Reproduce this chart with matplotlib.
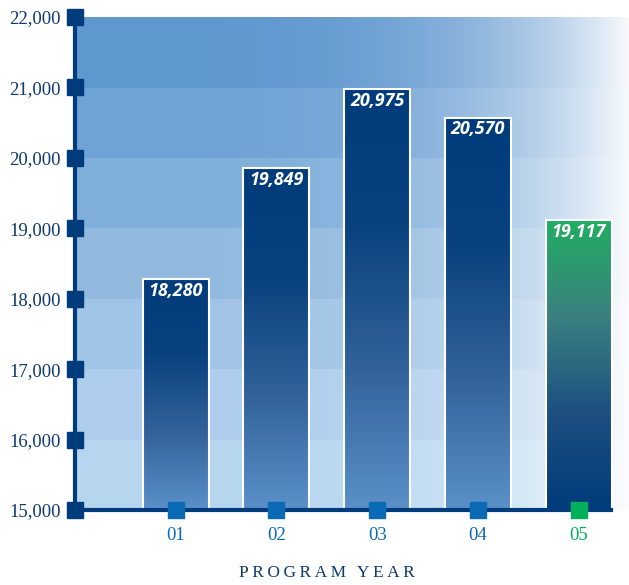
import numpy as np
import matplotlib
matplotlib.use("Agg")
import matplotlib.pyplot as plt
from matplotlib.colors import LinearSegmentedColormap, to_rgb

# data
years = ["01", "02", "03", "04", "05"]
values = [18280, 19849, 20975, 20570, 19117]
y_ticks = [15000, 16000, 17000, 18000, 19000, 20000, 21000, 22000]

navy = "#003b7b"
tick_blue = "#0a6ab5"
green = "#00b05a"

fig = plt.figure(figsize=(6.29, 5.85), dpi=100)
ax = fig.add_axes([75 / 629, 1 - 510 / 585, 554 / 629, 493 / 585])
x = np.arange(1, len(years) + 1)

# background bands, darker at the top, fading to white towards the right
band_cols = ["#b6d6f0", "#aecdec", "#a0c4e6", "#92badf", "#80afdb", "#6fa2d5", "#5f97cf"]
ncol = 600
f = np.linspace(0, 1, ncol)
w = 0.95 * f ** 3.5
bg = np.zeros((len(band_cols), ncol, 3))
for i, c in enumerate(band_cols):
    rgb = np.array(to_rgb(c))
    bg[i] = rgb[None, :] * (1 - w[:, None]) + w[:, None]
ax.imshow(bg, extent=(0, 5.5, 15000, 22000), origin="lower", aspect="auto",
          interpolation="nearest", zorder=0)

# bars with gradient fill
blue_cmap = LinearSegmentedColormap.from_list("b", ["#5b90c9", "#33629a", "#0a427f", "#003b7b"])
green_cmap = LinearSegmentedColormap.from_list("g", ["#003b7b", "#1d4f80", "#3a8080", "#22ad62"])
bars = ax.bar(x, [v - 15000 for v in values], bottom=15000, width=0.655,
              facecolor="none", edgecolor="white", linewidth=1.5, zorder=3)
grad = np.linspace(0, 1, 256).reshape(-1, 1)
for i, b in enumerate(bars):
    cmap = green_cmap if i == 4 else blue_cmap
    x0, y0 = b.get_x(), b.get_y()
    im = ax.imshow(grad, cmap=cmap, extent=(x0, x0 + b.get_width(), y0, y0 + b.get_height()),
                   origin="lower", aspect="auto", zorder=2)
    im.set_clip_path(b)
    ax.text(b.get_x() + b.get_width() / 2, values[i] - 165, f"{values[i]:,}",
            ha="center", va="center", color="white", fontsize=13,
            family="Open Sans", style="italic", weight="bold", zorder=4)
ax.set_xlim(0, 5.5)
ax.set_ylim(15000, 22000)

# spines and ticks
for s in ["top", "right"]:
    ax.spines[s].set_visible(False)
ax.spines["left"].set_color(navy)
ax.spines["left"].set_linewidth(3)
ax.spines["bottom"].set_color(navy)
ax.spines["bottom"].set_linewidth(3)
ax.spines["bottom"].set_bounds(0, 5.32)
ax.spines["left"].set_zorder(5)
ax.spines["bottom"].set_zorder(5)

ax.set_yticks(y_ticks)
ax.set_yticklabels([f"{t:,}" for t in y_ticks], family="Liberation Serif", fontsize=13.5, color="#0e3a70")
ax.set_xticks(x)
ax.set_xticklabels(years, family="Liberation Serif", fontsize=13.5)
for lbl, c in zip(ax.get_xticklabels(), [tick_blue] * 4 + [green]):
    lbl.set_color(c)
ax.tick_params(axis="y", length=0, pad=10)
ax.tick_params(axis="x", length=0, pad=12)

ax.plot([0] * len(y_ticks), y_ticks, "s", color=navy, markersize=11.5, clip_on=False, zorder=6)
ax.plot(x[:4], [15000] * 4, "s", color=tick_blue, markersize=11.5, clip_on=False, zorder=6)
ax.plot(x[4:], [15000], "s", color=green, markersize=11.5, clip_on=False, zorder=6)

fig.text(327 / 629, 1 - 573 / 585, "P\u2009R\u2009O\u2009G\u2009R\u2009A\u2009M\u2009\u2009 Y\u2009E\u2009A\u2009R",
         ha="center", va="center", family="Liberation Serif", fontsize=12.5, color="#0e3a70")

fig.savefig("out.png", dpi=100)
